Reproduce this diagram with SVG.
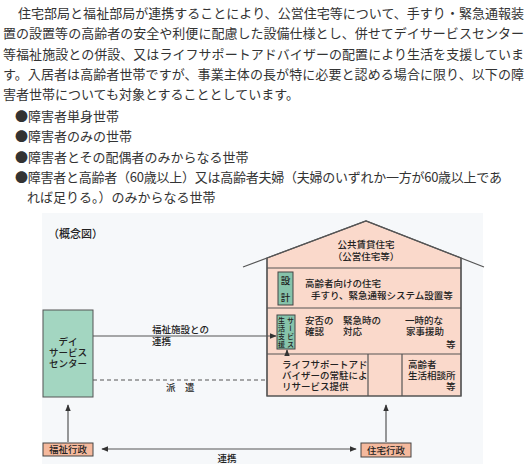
<svg xmlns="http://www.w3.org/2000/svg" width="530" height="468" viewBox="0 0 530 468">
<defs>
<style>
.t{font-family:"Noto Sans CJK JP","Liberation Sans",sans-serif;font-size:13px;fill:#333}
.d{font-family:"Noto Sans CJK JP","Liberation Sans",sans-serif;font-size:9.5px;fill:#222;font-weight:500}
.v{font-family:"Noto Sans CJK JP","Liberation Sans",sans-serif;font-size:7px;fill:#222;font-weight:500;writing-mode:vertical-rl;letter-spacing:1px}
.ln{stroke:#555;stroke-width:1.2;fill:none}
.hs{fill:#fad9cb;stroke:#555;stroke-width:1.2}
.tl{fill:#a3d6c1;stroke:#555;stroke-width:1}
.tl2{fill:#86c3aa;stroke:#444;stroke-width:1}
.ad{fill:#f5b99d;stroke:#444;stroke-width:1}
</style>
<marker id="ah" viewBox="0 0 10 10" refX="9" refY="5" markerWidth="6" markerHeight="6" orient="auto-start-reverse"><path d="M0,1 L10,5 L0,9 z" fill="#333"/></marker>
</defs>
<rect width="530" height="468" fill="#fff"/>
<g id="body-text" class="t">
<text x="18" y="18" textLength="506" lengthAdjust="spacing">住宅部局と福祉部局が連携することにより、公営住宅等について、手すり・緊急通報装</text>
<text x="3" y="38" textLength="521" lengthAdjust="spacing">置の設置等の高齢者の安全や利便に配慮した設備仕様とし、併せてデイサービスセンター</text>
<text x="3" y="59" textLength="521" lengthAdjust="spacing">等福祉施設との併設、又はライフサポートアドバイザーの配置により生活を支援していま</text>
<text x="3" y="79" textLength="521" lengthAdjust="spacing">す。入居者は高齢者世帯ですが、事業主体の長が特に必要と認める場合に限り、以下の障</text>
<text x="3" y="99">害者世帯についても対象とすることとしています。</text>
<text x="15" y="121">●障害者単身世帯</text>
<text x="15" y="141">●障害者のみの世帯</text>
<text x="15" y="162">●障害者とその配偶者のみからなる世帯</text>
<text x="15" y="182" textLength="487" lengthAdjust="spacing">●障害者と高齢者（60歳以上）又は高齢者夫婦（夫婦のいずれか一方が60歳以上であ</text>
<text x="27" y="202">れば足りる。）のみからなる世帯</text>
</g>
<rect x="42" y="213" width="441" height="251" fill="#f6f8fa"/>
<text class="d" x="48" y="238" style="font-size:11px">（概念図）</text>
<g id="house">
<polygon class="hs" points="267,258 366,221 461,258 461,396 267,396" stroke="none"/>
<polyline class="ln" points="243,267 366,221 484,267"/>
<polyline class="ln" points="267,258 267,396 461,396 461,258"/>
<line class="ln" x1="267" y1="268" x2="461" y2="268"/>
<line class="ln" x1="267" y1="308" x2="461" y2="308"/>
<line class="ln" x1="267" y1="354" x2="461" y2="354"/>
<line class="ln" x1="368" y1="354" x2="368" y2="396"/>
<line class="ln" x1="402" y1="354" x2="402" y2="396"/>
<text class="d" text-anchor="middle"><tspan x="366" y="248">公共賃貸住宅</tspan><tspan x="366" y="260">（公営住宅等）</tspan></text>
<text class="d"><tspan x="305" y="287">高齢者向けの住宅</tspan><tspan x="311" y="299">手すり、緊急通報システム設置等</tspan></text>
<text class="d"><tspan x="305" y="324">安否の</tspan><tspan x="305" y="335">確認</tspan></text>
<text class="d"><tspan x="343" y="324">緊急時の</tspan><tspan x="343" y="335">対応</tspan></text>
<text class="d"><tspan x="405" y="324">一時的な</tspan><tspan x="406" y="335">家事援助</tspan><tspan x="446" y="348">等</tspan></text>
<text class="d"><tspan x="282" y="368">ライフサポートアド</tspan><tspan x="282" y="379">バイザーの常駐によ</tspan><tspan x="282" y="390">リサービス提供</tspan></text>
<text class="d"><tspan x="408" y="368">高齢者</tspan><tspan x="408" y="379">生活相談所</tspan><tspan x="446" y="390">等</tspan></text>
</g>
<g id="design">
<rect class="tl2" x="278" y="272" width="15" height="33"/>
<text class="d" text-anchor="middle"><tspan x="285.5" y="284">設</tspan><tspan x="285.5" y="301">計</tspan></text>
</g>
<g id="life-support">
<rect class="tl2" x="277" y="315" width="18" height="34"/>
<text class="v" x="290.5" y="317">サービス</text>
<text class="v" x="281.5" y="317">生活支援</text>
</g>
<g id="day-service">
<rect class="tl" x="43" y="310" width="50" height="87"/>
<text class="d" text-anchor="middle"><tspan x="68" y="345">デイ</tspan><tspan x="68" y="356">サービス</tspan><tspan x="68" y="367">センター</tspan></text>
</g>
<g id="welfare-admin">
<rect class="ad" x="43" y="443" width="50" height="13"/>
<text class="d" x="68" y="453" text-anchor="middle">福祉行政</text>
</g>
<g id="housing-admin">
<rect class="ad" x="361" y="443" width="50" height="14"/>
<text class="d" x="386" y="453.5" text-anchor="middle">住宅行政</text>
</g>
<g id="connectors">
<line class="ln" x1="93" y1="336" x2="276" y2="336" marker-end="url(#ah)"/>
<line class="ln" x1="93" y1="380" x2="267" y2="380" stroke-dasharray="4,3"/>
<line class="ln" x1="287" y1="356" x2="287" y2="350" marker-end="url(#ah)"/>
<line class="ln" x1="68" y1="442" x2="68" y2="405" marker-end="url(#ah)"/>
<line class="ln" x1="386" y1="442" x2="386" y2="405" marker-end="url(#ah)"/>
<line class="ln" x1="102" y1="449" x2="356" y2="449" marker-start="url(#ah)" marker-end="url(#ah)"/>
<text class="d"><tspan x="152" y="333">福祉施設との</tspan><tspan x="152" y="345">連携</tspan></text>
<text class="d" x="166" y="391">派　遣</text>
<text class="d" x="227" y="462" text-anchor="middle">連携</text>
</g>
</svg>
